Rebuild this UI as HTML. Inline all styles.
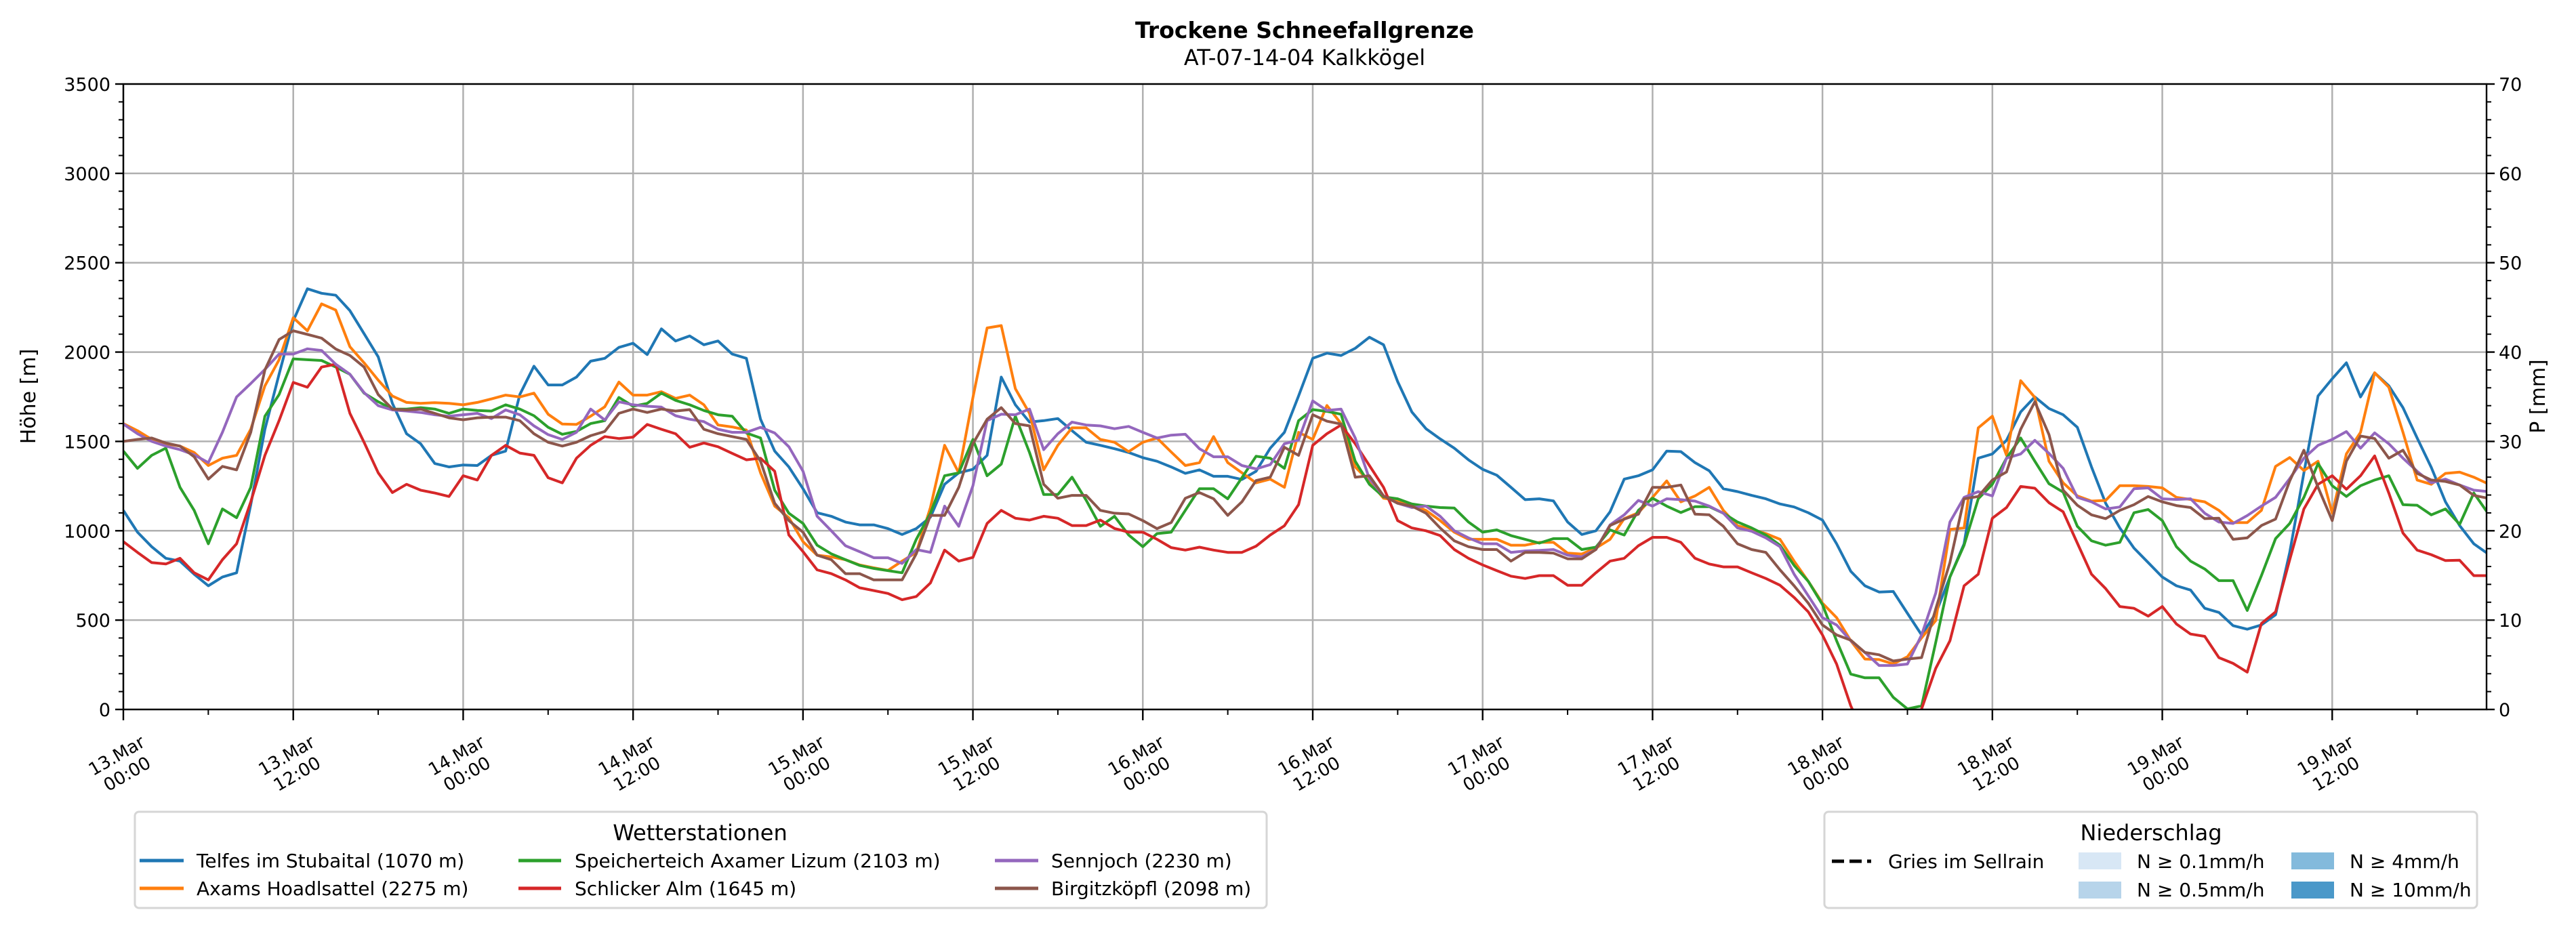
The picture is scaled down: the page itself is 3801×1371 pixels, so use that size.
<!DOCTYPE html>
<html><head><meta charset="utf-8"><style>
html,body{margin:0;padding:0;background:#fff;}
svg{display:block;font-family:"DejaVu Sans","Liberation Sans",sans-serif;}
</style></head><body>
<svg id="chart" xmlns="http://www.w3.org/2000/svg" width="3801" height="1371" viewBox="0 0 3801 1371">
<rect x="0" y="0" width="3801" height="1371" fill="#fff"/>
<text x="1925" y="56" text-anchor="middle" font-size="33" font-weight="bold">Trockene Schneefallgrenze</text>
<text x="1925" y="96" text-anchor="middle" font-size="32">AT-07-14-04 Kalkkögel</text>
<defs><clipPath id="plotclip"><rect x="182" y="124" width="3487" height="923"/></clipPath></defs>
<g id="grid"></g>
<g id="series" clip-path="url(#plotclip)"></g>
<g id="axes"></g>
<text transform="translate(52,585) rotate(-90)" text-anchor="middle" font-size="30">Höhe [m]</text>
<text transform="translate(3755,585) rotate(-90)" text-anchor="middle" font-size="30">P [mm]</text>

<g>
<rect x="199" y="1198" width="1670" height="142" rx="6" fill="#fff" stroke="#d6d6d6" stroke-width="3"/>
<text x="1033" y="1240" text-anchor="middle" font-size="32">Wetterstationen</text>
<g><line x1="206" y1="1270" x2="271" y2="1270" stroke="#1f77b4" stroke-width="5"/><text x="290" y="1280" font-size="28">Telfes im Stubaital (1070 m)</text></g>
<g><line x1="206" y1="1311" x2="271" y2="1311" stroke="#ff7f0e" stroke-width="5"/><text x="290" y="1321" font-size="28">Axams Hoadlsattel (2275 m)</text></g>
<g><line x1="765" y1="1270" x2="828" y2="1270" stroke="#2ca02c" stroke-width="5"/><text x="848" y="1280" font-size="28">Speicherteich Axamer Lizum (2103 m)</text></g>
<g><line x1="765" y1="1311" x2="828" y2="1311" stroke="#d62728" stroke-width="5"/><text x="848" y="1321" font-size="28">Schlicker Alm (1645 m)</text></g>
<g><line x1="1468" y1="1270" x2="1532" y2="1270" stroke="#9467bd" stroke-width="5"/><text x="1551" y="1280" font-size="28">Sennjoch (2230 m)</text></g>
<g><line x1="1468" y1="1311" x2="1532" y2="1311" stroke="#8c564b" stroke-width="5"/><text x="1551" y="1321" font-size="28">Birgitzköpfl (2098 m)</text></g>
</g>

<g>
<rect x="2692" y="1198" width="963" height="142" rx="6" fill="#fff" stroke="#d6d6d6" stroke-width="3"/>
<text x="3174" y="1240" text-anchor="middle" font-size="32">Niederschlag</text>
<g><line x1="2703" y1="1271" x2="2761" y2="1271" stroke="#000" stroke-width="5" stroke-dasharray="18,8"/><text x="2786" y="1281" font-size="28">Gries im Sellrain</text></g>
<g><rect x="3067" y="1258" width="63" height="25" fill="#d8e7f5"/><text x="3153" y="1281" font-size="28">N ≥ 0.1mm/h</text></g>
<g><rect x="3067" y="1301" width="63" height="25" fill="#b7d4ea"/><text x="3153" y="1323" font-size="28">N ≥ 0.5mm/h</text></g>
<g><rect x="3381" y="1258" width="63" height="25" fill="#83badc"/><text x="3467" y="1281" font-size="28">N ≥ 4mm/h</text></g>
<g><rect x="3381" y="1301" width="63" height="25" fill="#4a98c9"/><text x="3467" y="1323" font-size="28">N ≥ 10mm/h</text></g>
</g>
</svg>
<script>
const timeLabelsTop = ["13.Mar","13.Mar","14.Mar","14.Mar","15.Mar","15.Mar","16.Mar","16.Mar","17.Mar","17.Mar","18.Mar","18.Mar","19.Mar","19.Mar"];
const timeLabelsBottom = ["00:00","12:00","00:00","12:00","00:00","12:00","00:00","12:00","00:00","12:00","00:00","12:00","00:00","12:00"];
const yTicks = [0,500,1000,1500,2000,2500,3000,3500];
const y2Ticks = [0,10,20,30,40,50,60,70];
const telfes = [1114,992,911,846,830,757,692,741,765,1146,1568,1876,2175,2354,2329,2318,2232,2103,1973,1713,1543,1487,1376,1357,1368,1365,1422,1446,1762,1921,1816,1816,1860,1949,1965,2026,2049,1986,2130,2062,2090,2041,
2062,1989,1965,1624,1446,1357,1235,1101,1081,1049,1033,1033,1012,979,1012,1076,1260,1324,1344,1422,1860,1705,1608,1616,1628,1560,1495,1478,1459,1438,1409,1389,1357,1321,1341,1305,1305,1287,1333,1462,1551,1754,
1965,1994,1981,2021,2083,2041,1835,1665,1571,1514,1462,1397,1344,1311,1243,1174,1179,1167,1049,979,1000,1106,1289,1308,1341,1446,1443,1381,1336,1235,1219,1198,1179,1150,1133,1101,1060,927,773,692,657,
660,538,417,538,741,927,1406,1430,1506,1665,1749,1684,1649,1579,1357,1154,1016,903,822,741,692,668,566,543,469,449,473,530,879,1324,1754,1851,1940,1749,1884,1811,1689,1519,1354,1162,1029,927,871];
const axams = [1600,1560,1511,1487,1474,1438,1365,1406,1422,1568,1811,1957,2192,2119,2270,2235,2030,1940,1843,1754,1718,1713,1717,1713,1705,1718,1738,1759,1749,1770,1652,1597,1595,1641,1694,1832,1759,1759,1778,1741,1759,1705,
1592,1581,1564,1324,1138,1073,939,863,854,838,809,793,778,830,879,1130,1478,1324,1746,2135,2148,1795,1657,1341,1478,1576,1576,1511,1495,1443,1495,1519,1441,1365,1381,1527,1381,1324,1268,1289,1243,1551,
1511,1701,1600,1357,1276,1182,1170,1146,1114,1057,992,952,952,952,919,919,935,935,875,870,903,952,1068,1101,1187,1279,1162,1195,1243,1114,1028,1008,984,952,830,717,595,514,384,282,279,
255,295,401,498,1008,1016,1576,1641,1422,1840,1746,1389,1268,1195,1166,1170,1252,1252,1248,1240,1187,1175,1162,1114,1046,1046,1114,1360,1410,1337,1389,1098,1430,1551,1884,1803,1551,1284,1260,1321,1328,1300,1263];
const speicherteich = [1446,1349,1422,1462,1243,1114,927,1122,1073,1243,1641,1762,1962,1957,1953,1916,1876,1770,1722,1681,1681,1689,1681,1657,1681,1673,1670,1705,1681,1644,1579,1540,1556,1600,1616,1746,1697,1713,1770,1730,1705,1673,
1649,1641,1547,1519,1227,1098,1041,919,871,838,806,789,777,765,952,1098,1308,1324,1511,1308,1373,1641,1438,1203,1203,1300,1171,1025,1081,976,911,984,992,1114,1235,1235,1179,1297,1417,1406,1349,1616,
1678,1668,1652,1389,1260,1190,1179,1150,1138,1130,1127,1049,992,1005,973,952,931,956,956,895,908,1005,976,1114,1182,1138,1102,1135,1135,1098,1049,1016,976,919,806,717,587,384,198,177,177,
68,3,20,376,741,919,1179,1260,1406,1519,1389,1263,1216,1025,944,919,935,1101,1119,1057,911,830,786,721,721,554,749,956,1041,1187,1376,1252,1192,1252,1284,1308,1146,1143,1089,1122,1036,1211,1098];
const schlicker = [939,879,822,814,846,765,725,838,927,1162,1422,1616,1830,1803,1916,1932,1657,1495,1324,1214,1260,1227,1211,1192,1308,1284,1422,1478,1435,1422,1297,1268,1406,1478,1527,1516,1524,1595,1568,1543,1467,1491,
1470,1433,1397,1406,1333,976,883,781,760,725,681,665,649,614,632,708,892,830,851,1041,1114,1070,1060,1081,1070,1029,1029,1060,1013,992,992,952,906,892,908,892,879,879,914,976,1028,1146,
1478,1543,1592,1487,1365,1243,1057,1016,1000,973,895,846,809,777,746,733,749,749,695,695,765,830,846,916,963,963,935,846,814,798,798,765,733,695,627,546,417,254,20,-150,-250,
-250,-150,3,230,384,692,757,1070,1130,1248,1238,1157,1106,931,757,676,576,566,522,576,478,422,409,290,258,209,481,546,838,1122,1260,1308,1232,1308,1419,1211,987,892,866,833,835,749,749];
const sennjoch = [1597,1543,1500,1474,1454,1425,1381,1551,1749,1824,1903,1989,1989,2018,2009,1932,1876,1773,1700,1676,1670,1662,1649,1641,1649,1657,1628,1676,1649,1587,1538,1511,1551,1681,1620,1722,1705,1697,1692,1644,1624,1611,
1568,1551,1551,1579,1547,1470,1333,1081,1000,916,883,849,849,817,895,879,1138,1025,1252,1616,1652,1649,1681,1454,1543,1608,1592,1587,1571,1584,1551,1519,1535,1540,1459,1414,1414,1365,1346,1370,1487,1508,
1727,1673,1681,1519,1292,1195,1154,1130,1138,1081,1000,960,927,927,879,887,890,895,863,854,895,1033,1089,1170,1138,1179,1174,1166,1138,1098,1016,997,960,911,757,636,514,473,384,319,246,
246,254,417,652,1049,1187,1219,1195,1406,1430,1506,1433,1349,1187,1162,1122,1133,1235,1240,1179,1175,1179,1098,1049,1041,1085,1138,1187,1292,1406,1478,1511,1555,1462,1548,1487,1406,1333,1268,1289,1256,1227,1219];
const birgitz = [1500,1511,1519,1491,1474,1414,1289,1360,1341,1551,1900,2070,2119,2099,2078,2017,1981,1916,1762,1681,1676,1681,1657,1632,1621,1632,1636,1636,1616,1543,1495,1474,1495,1532,1556,1657,1681,1662,1681,1670,1678,1568,
1543,1527,1511,1389,1154,1057,992,863,838,760,760,725,725,725,871,1086,1086,1243,1487,1624,1689,1600,1587,1260,1182,1198,1198,1114,1098,1094,1057,1012,1046,1182,1214,1179,1086,1162,1281,1300,1467,1422,
1649,1613,1597,1300,1308,1195,1154,1138,1098,1016,944,911,895,895,830,879,879,875,843,843,895,1029,1065,1093,1243,1243,1256,1093,1089,1025,927,895,879,781,692,595,473,417,388,319,306,
271,282,290,563,822,1179,1192,1284,1329,1568,1722,1538,1227,1143,1089,1068,1114,1146,1192,1162,1141,1130,1068,1070,952,960,1029,1065,1279,1451,1243,1057,1389,1530,1516,1406,1451,1321,1284,1276,1256,1198,1182];

const NS = "http://www.w3.org/2000/svg";
const L = 182, R = 3669, T = 124, B = 1047;
const H_MAX = 166.9, Y_MAX = 3500, Y2_MAX = 70;
function xScale(h){ return L + h * (R - L) / H_MAX; }
function yScale(v){ return B - v * (B - T) / Y_MAX; }
function y2Scale(v){ return B - v * (B - T) / Y2_MAX; }
function mk(tag, attrs, parent){ const e = document.createElementNS(NS, tag); for (const k in attrs) e.setAttribute(k, attrs[k]); parent.appendChild(e); return e; }

const grid = document.getElementById('grid');
const axes = document.getElementById('axes');
const seriesG = document.getElementById('series');

yTicks.forEach((v) => {
  const y = yScale(v);
  const gl = mk('line', {x1: L, x2: R, y1: y, y2: y, stroke: '#b0b0b0', 'stroke-width': 2.5}, grid);
  
  
  const tk = mk('line', {x1: L - 12, x2: L, y1: y, y2: y, stroke: '#000', 'stroke-width': 2.4}, axes);
  
  
  const tx = mk('text', {x: L - 19, y: y + 10, 'text-anchor': 'end', 'font-size': 27}, axes);
  tx.textContent = v;
  
  
});
for (let v = 100; v < Y_MAX; v += 100) {
  if (v % 500 === 0) continue;
  const mt = mk('line', {x1: L - 7, x2: L, y1: yScale(v), y2: yScale(v), stroke: '#000', 'stroke-width': 2}, axes);
  
  
}
y2Ticks.forEach((v) => {
  const y = y2Scale(v);
  const tk = mk('line', {x1: R, x2: R + 12, y1: y, y2: y, stroke: '#000', 'stroke-width': 2.4}, axes);
  
  
  const tx = mk('text', {x: R + 18, y: y + 10, 'text-anchor': 'start', 'font-size': 27}, axes);
  tx.textContent = v;
  
  
});
for (let v = 2; v < Y2_MAX; v += 2) {
  if (v % 10 === 0) continue;
  const mt = mk('line', {x1: R, x2: R + 7, y1: y2Scale(v), y2: y2Scale(v), stroke: '#000', 'stroke-width': 2}, axes);
  
  
}
timeLabelsTop.forEach((lab, i) => {
  const h = i * 12;
  const x = xScale(h);
  const gl = mk('line', {x1: x, x2: x, y1: T, y2: B, stroke: '#b0b0b0', 'stroke-width': 2.5}, grid);
  
  
  const tk = mk('line', {x1: x, x2: x, y1: B, y2: B + 16, stroke: '#000', 'stroke-width': 2.4}, axes);
  
  
  const minor = xScale(h + 6);
  if (h + 6 < H_MAX) {
    const mt = mk('line', {x1: minor, x2: minor, y1: B, y2: B + 8, stroke: '#000', 'stroke-width': 2}, axes);
    
    
  }
  const g = mk('g', {transform: 'translate(' + (x - 2) + ',' + (B + 82) + ') rotate(-30)'}, axes);
  
  
  const t1 = mk('text', {x: 0, y: -7, 'text-anchor': 'middle', 'font-size': 26}, g);
  t1.textContent = lab;
  const t2 = mk('text', {x: 0, y: 24, 'text-anchor': 'middle', 'font-size': 26}, g);
  t2.textContent = timeLabelsBottom[i];
});
const frame = mk('rect', {x: L, y: T, width: R - L, height: B - T, fill: 'none', stroke: '#000', 'stroke-width': 2.4}, axes);



const seriesList = [
  ['line-telfes', telfes, '#1f77b4'],
  ['line-axams', axams, '#ff7f0e'],
  ['line-speicherteich', speicherteich, '#2ca02c'],
  ['line-schlicker', schlicker, '#d62728'],
  ['line-sennjoch', sennjoch, '#9467bd'],
  ['line-birgitz', birgitz, '#8c564b']
];
seriesList.forEach(([name, vals, col]) => {
  const d = vals.map((v, h) => (h ? 'L' : 'M') + xScale(h).toFixed(1) + ',' + yScale(v).toFixed(1)).join(' ');
  const p = mk('path', {d: d, fill: 'none', stroke: col, 'stroke-width': 4, 'stroke-linejoin': 'round'}, seriesG);
  
  
});
</script>
</body></html>
